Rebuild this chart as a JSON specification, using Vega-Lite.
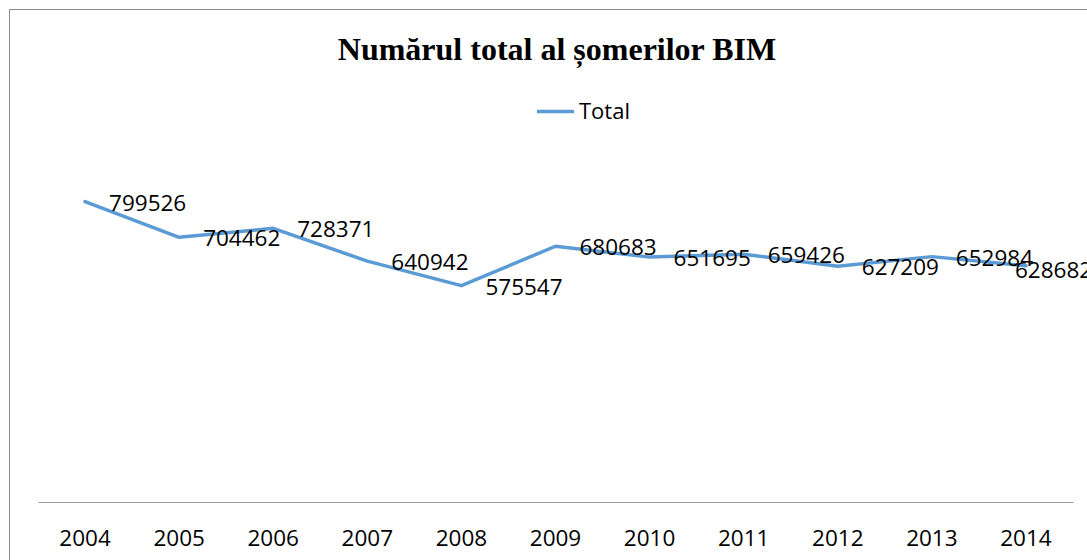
{
  "$schema": "https://vega.github.io/schema/vega-lite/v6.json",
  "width": 1078,
  "height": 551,
  "autosize": {"type": "none"},
  "padding": {"left": 9, "top": 9, "right": 0, "bottom": 0},
  "background": "white",
  "config": {
    "view": {"stroke": "#8a8a8a", "strokeWidth": 1},
    "font": "Open Sans"
  },
  "title": {
    "text": "Numărul total al șomerilor BIM",
    "font": "Liberation Serif",
    "fontSize": 32,
    "fontWeight": "bold",
    "color": "black",
    "anchor": "middle",
    "offset": 0,
    "dx": 9,
    "dy": 83,
    "baseline": "alphabetic"
  },
  "data": {
    "values": [
      {"year": "2004", "value": 799526, "series": "Total"},
      {"year": "2005", "value": 704462, "series": "Total"},
      {"year": "2006", "value": 728371, "series": "Total"},
      {"year": "2007", "value": 640942, "series": "Total"},
      {"year": "2008", "value": 575547, "series": "Total"},
      {"year": "2009", "value": 680683, "series": "Total"},
      {"year": "2010", "value": 651695, "series": "Total"},
      {"year": "2011", "value": 659426, "series": "Total"},
      {"year": "2012", "value": 627209, "series": "Total"},
      {"year": "2013", "value": 652984, "series": "Total"},
      {"year": "2014", "value": 628682, "series": "Total"}
    ]
  },
  "encoding": {
    "x": {
      "field": "year",
      "type": "ordinal",
      "scale": {"type": "band", "range": [29, 1064], "paddingInner": 0, "paddingOuter": 0},
      "axis": {
        "title": null,
        "orient": "bottom",
        "offset": -58,
        "labelAngle": 0,
        "ticks": false,
        "tickSize": 0,
        "labelPadding": 25,
        "labelFont": "Open Sans",
        "labelFontSize": 22.5,
        "labelColor": "black",
        "domainColor": "#9a9a9a",
        "domainWidth": 1.2,
        "grid": false
      }
    },
    "y": {
      "field": "value",
      "type": "quantitative",
      "scale": {"domain": [-156000, 1313333], "nice": false, "zero": false},
      "axis": null
    }
  },
  "layer": [
    {
      "mark": {"type": "line", "strokeWidth": 3.5, "strokeJoin": "round", "strokeCap": "round"},
      "encoding": {
        "color": {
          "field": "series",
          "type": "nominal",
          "scale": {"range": ["#5B9BD5"]},
          "legend": {
            "title": null,
            "orient": "none",
            "legendX": 526,
            "legendY": 82,
            "padding": 0,
            "symbolType": "stroke",
            "symbolSize": 1369,
            "symbolStrokeWidth": 3.5,
            "labelFont": "Open Sans",
            "labelFontSize": 22,
            "labelColor": "black",
            "labelOffset": 3
          }
        }
      }
    },
    {
      "transform": [{"filter": "datum.year != '2014'"}],
      "mark": {"type": "text", "align": "left", "baseline": "middle", "dx": 24, "dy": 2, "font": "Open Sans", "fontSize": 22.5, "color": "black"},
      "encoding": {
        "text": {"field": "value", "type": "nominal"}
      }
    },
    {
      "transform": [{"filter": "datum.year == '2014'"}],
      "mark": {"type": "text", "align": "left", "baseline": "middle", "dx": -11, "dy": 5, "font": "Open Sans", "fontSize": 22.5, "color": "black"},
      "encoding": {
        "text": {"field": "value", "type": "nominal"}
      }
    }
  ]
}
